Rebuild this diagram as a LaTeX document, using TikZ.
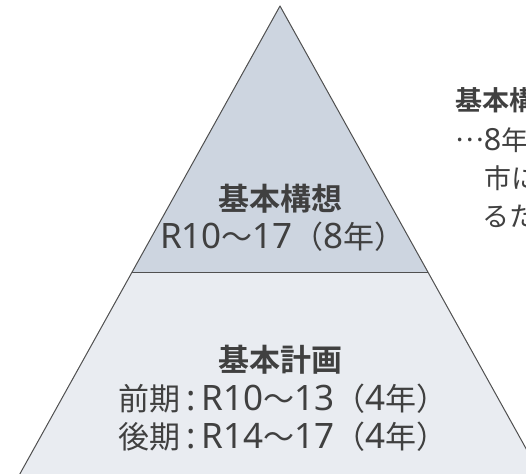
\documentclass[tikz,border=0pt]{standalone}
\usepackage{fontspec}
\newfontfamily\jp[BoldFont={Noto Sans CJK JP Bold}]{Noto Sans CJK JP}
\newfontfamily\lat[Scale=1.13]{Noto Sans}
\newcommand{\lt}[1]{{\lat #1}}
\newcommand{\midell}{\raisebox{0.3em}{…}}
\definecolor{topc}{HTML}{CDD5E0}
\definecolor{botc}{HTML}{E9ECF1}
\definecolor{edgec}{HTML}{505050}
\definecolor{txt}{HTML}{404040}
\begin{document}
\begin{tikzpicture}[x=1pt,y=-1pt,
  tier/.style={draw=edgec, line width=1pt, line join=round},
  lbl/.style={anchor=base, text=txt, inner sep=0pt, font=\jp\fontsize{31}{31}\selectfont},
  ttl/.style={lbl, font=\jp\bfseries\fontsize{31}{31}\selectfont},
  side/.style={anchor=base west, text=txt, inner sep=0pt, font=\jp\fontsize{27}{27}\selectfont},
  sidettl/.style={side, font=\jp\bfseries\fontsize{27}{27}\selectfont}
]
\useasboundingbox (0,0) rectangle (526,473);
\clip (0,0) rectangle (526,473);
\fill[white] (0,0) rectangle (526,473);
\coordinate (apex) at (280,6);
\coordinate (dl) at (132,272);
\coordinate (dr) at (428,272);
\coordinate (bl) at (16.5,480);
\coordinate (br) at (543.5,480);
\fill[topc] (apex) -- (dl) -- (dr) -- cycle;
\fill[botc] (dl) -- (bl) -- (br) -- (dr) -- cycle;
\draw[tier] (bl) -- (apex) -- (br);
\draw[tier] (dl) -- (dr);
% top tier
\node[ttl] (t1) at (280,210) {基本構想};
\node[lbl] (t2) at (283,248) {\lt{R10}～\lt{17}（\lt{8}年）};
% bottom tier
\node[ttl] (b1) at (280,371) {基本計画};
\node[lbl] (b2) at (283,410) {前期\lt{\,:\,R10}～\lt{13}（\lt{4}年）};
\node[lbl] (b3) at (283,448) {後期\lt{\,:\,R14}～\lt{17}（\lt{4}年）};
% side note (clipped at the right edge, as in the reference)
\node[sidettl] (s1) at (455,111) {基本構想};
\node[side] (s2) at (455,150) {\midell\lt{8}年間の};
\node[side] (s3) at (484,188) {市における};
\node[side] (s4) at (482,226) {るため};
\end{tikzpicture}
\end{document}
